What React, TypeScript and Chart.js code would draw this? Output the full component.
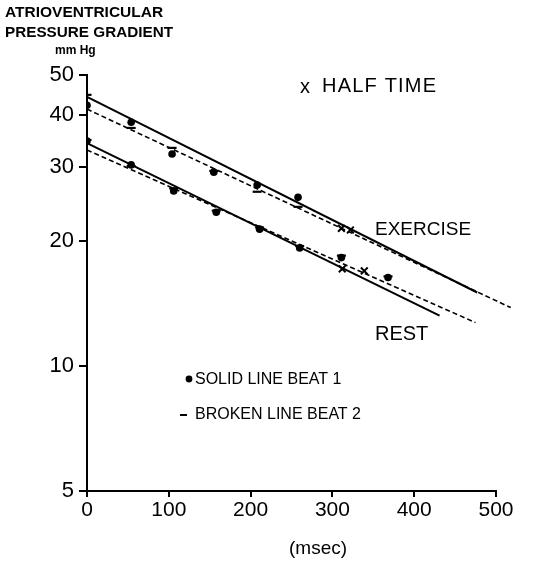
import React, { useEffect, useRef } from "react";
import { Chart, registerables } from "chart.js";

Chart.register(...registerables);

// Axis ticks
const xTickValues = [0, 100, 200, 300, 400, 500];
const yTickValues = [5, 10, 20, 30, 40, 50];

// Exercise measurements (msec, mm Hg)
const exerciseTimes = [0, 54, 104, 155, 208, 258];
const exerciseBeat1 = [42.3, 38.5, 32.3, 29.2, 27.2, 25.4];
const exerciseBeat2 = [44.8, 37.3, 33.4, 29.4, 26.2, 24.1];

// Rest measurements (msec, mm Hg)
const restTimes = [0, 54, 106, 158, 211, 260, 311, 368];
const restBeat1 = [34.7, 30.4, 26.3, 23.4, 21.3, 19.2, 18.2, 16.3];
const restBeat2 = [34.9, 30.2, 26.7, 23.6, 21.5, 19.4, 18.4, 16.4];

// Half-time markers
const halfTimeTimes = [311, 322, 312, 339];
const halfTimeValues = [21.4, 21.2, 17.1, 16.9];

// Fitted regression lines (start / end)
const exerciseSolidTimes = [0, 477];
const exerciseSolidValues = [44.3, 15.0];
const exerciseBrokenTimes = [0, 518];
const exerciseBrokenValues = [41.4, 13.8];
const restSolidTimes = [0, 431];
const restSolidValues = [34.3, 13.2];
const restBrokenTimes = [0, 475];
const restBrokenValues = [33.0, 12.7];

// Text
const yTitleLine1 = "ATRIOVENTRICULAR";
const yTitleLine2 = "PRESSURE GRADIENT";
const yTitleUnit = "mm Hg";
const xTitle = "(msec)";
const halfTimeLabel = "HALF TIME";
const exerciseLabel = "EXERCISE";
const restLabel = "REST";
const beat1Label = "SOLID LINE BEAT 1";
const beat2Label = "BROKEN LINE BEAT 2";

const FONT = "'Liberation Sans', Arial, sans-serif";

const zip = (xs: number[], ys: number[]) => xs.map((x, i) => ({ x, y: ys[i] }));

const textPlugin = {
  id: "annotText",
  afterDraw(chart: any) {
    const ctx = chart.ctx as any;
    ctx.save();
    ctx.fillStyle = "#000";
    ctx.textBaseline = "middle";
    ctx.textAlign = "left";
    ctx.font = `bold 15.5px ${FONT}`;
    ctx.fillText(yTitleLine1, 5, 13, 161);
    ctx.fillText(yTitleLine2, 5, 33, 168);
    ctx.font = `bold 12px ${FONT}`;
    ctx.fillText(yTitleUnit, 55, 51);

    ctx.font = `20px ${FONT}`;
    ctx.fillText("x", 300, 87);
    ctx.letterSpacing = "1.2px";
    ctx.fillText(halfTimeLabel, 322, 86);
    ctx.letterSpacing = "0px";
    ctx.font = `19px ${FONT}`;
    ctx.fillText(exerciseLabel, 375, 230);
    ctx.font = `20px ${FONT}`;
    ctx.fillText(restLabel, 375, 334);

    ctx.font = `16px ${FONT}`;
    ctx.beginPath();
    ctx.arc(189, 379, 3.4, 0, Math.PI * 2);
    ctx.fill();
    ctx.fillText(beat1Label, 195, 380);
    ctx.fillRect(180, 414, 7, 2);
    ctx.fillText(beat2Label, 195, 415);

    ctx.font = `19px ${FONT}`;
    ctx.textAlign = "center";
    ctx.fillText(xTitle, 318, 549);
    ctx.restore();
  },
};

export default function App() {
  const canvasRef = useRef<HTMLCanvasElement | null>(null);

  useEffect(() => {
    document.body.style.margin = "0";
    const canvas = canvasRef.current;
    if (!canvas) return;

    const dot = {
      pointStyle: "circle",
      pointRadius: 3.8,
      backgroundColor: "#000",
      borderColor: "#000",
      borderWidth: 0,
      showLine: false,
    };
    const dash = {
      pointStyle: "line",
      pointRadius: 4.5,
      backgroundColor: "#000",
      borderColor: "#000",
      borderWidth: 2.2,
      showLine: false,
    };
    const solid = {
      showLine: true,
      pointRadius: 0,
      borderColor: "#000",
      borderWidth: 2,
      clip: false,
    };
    const broken = {
      showLine: true,
      pointRadius: 0,
      borderColor: "#000",
      borderWidth: 1.6,
      borderDash: [5, 3],
      clip: false,
    };

    const chart = new Chart(canvas, {
      type: "scatter",
      data: {
        datasets: [
          { ...dot, data: zip(exerciseTimes, exerciseBeat1) },
          { ...dash, data: zip(exerciseTimes, exerciseBeat2) },
          { ...dot, data: zip(restTimes, restBeat1) },
          { ...dash, data: zip(restTimes, restBeat2) },
          {
            pointStyle: "crossRot",
            pointRadius: 4.8,
            borderColor: "#000",
            borderWidth: 2,
            showLine: false,
            data: zip(halfTimeTimes, halfTimeValues),
          },
          { ...solid, data: zip(exerciseSolidTimes, exerciseSolidValues) },
          { ...broken, data: zip(exerciseBrokenTimes, exerciseBrokenValues) },
          { ...solid, data: zip(restSolidTimes, restSolidValues) },
          { ...broken, data: zip(restBrokenTimes, restBrokenValues) },
        ] as any,
      },
      options: {
        responsive: false,
        animation: false,
        devicePixelRatio: 1,
        layout: { padding: { top: 75, right: 46, left: 0, bottom: 0 } },
        plugins: {
          legend: { display: false },
          tooltip: { enabled: false },
        },
        scales: {
          x: {
            type: "linear",
            min: 0,
            max: 500,
            afterBuildTicks: (scale: any) => {
              scale.ticks = xTickValues.map((value) => ({ value }));
            },
            afterFit: (scale: any) => {
              scale.height = 75;
            },
            ticks: {
              color: "#000",
              font: { family: FONT, size: 21 },
              padding: 1,
              maxRotation: 0,
              callback: (v: any) => String(v),
            },
            grid: {
              drawOnChartArea: false,
              drawTicks: true,
              tickLength: 6,
              color: "#000",
              lineWidth: 2,
            },
            border: { display: true, color: "#000", width: 2 },
          },
          y: {
            type: "logarithmic",
            min: 5,
            max: 50,
            afterBuildTicks: (scale: any) => {
              scale.ticks = yTickValues.map((value) => ({ value }));
            },
            afterFit: (scale: any) => {
              scale.width = 87;
            },
            ticks: {
              color: "#000",
              font: { family: FONT, size: 22 },
              padding: 5,
              callback: (v: any) => String(v),
            },
            grid: {
              drawOnChartArea: false,
              drawTicks: true,
              tickLength: 8,
              color: "#000",
              lineWidth: 2,
            },
            border: { display: true, color: "#000", width: 2 },
          },
        },
      } as any,
      plugins: [textPlugin],
    });

    return () => chart.destroy();
  }, []);

  return (
    <div style={{ width: 542, height: 566, background: "#fff" }}>
      <canvas ref={canvasRef} width={542} height={566} style={{ display: "block" }} />
    </div>
  );
}
